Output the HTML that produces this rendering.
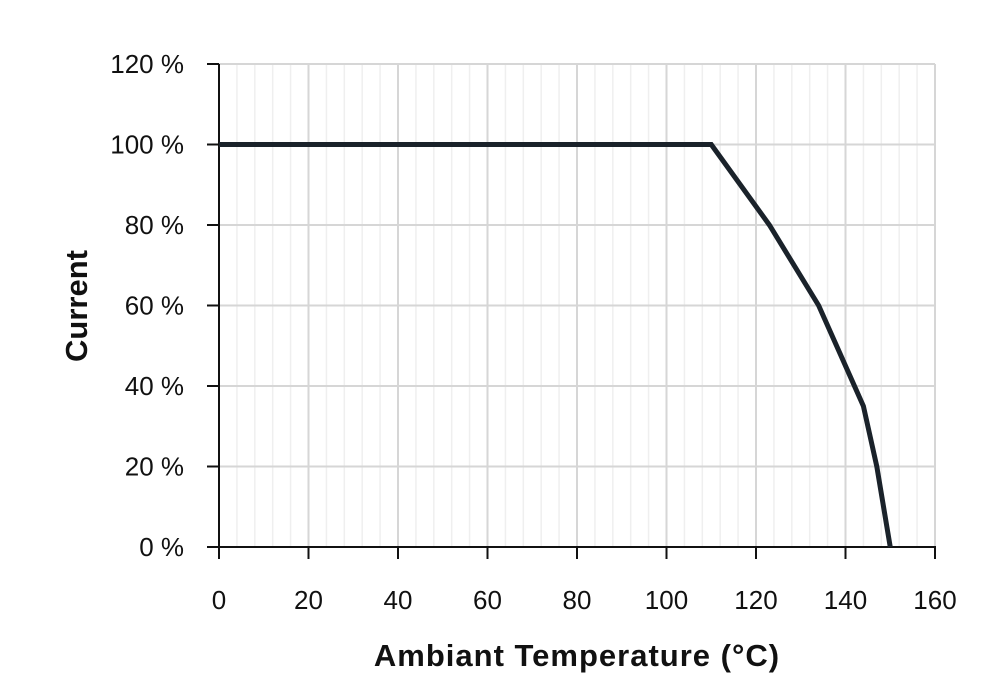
<!DOCTYPE html><html><head><style>body{margin:0;background:#fff}svg{display:block}</style></head><body>
<svg width="1000" height="700" xmlns="http://www.w3.org/2000/svg" font-family="Liberation Sans, sans-serif">
<g stroke="#efefef" stroke-width="1.5">
<line x1="236.9" y1="64" x2="236.9" y2="547"/><line x1="254.8" y1="64" x2="254.8" y2="547"/><line x1="272.7" y1="64" x2="272.7" y2="547"/><line x1="290.6" y1="64" x2="290.6" y2="547"/>
<line x1="326.4" y1="64" x2="326.4" y2="547"/><line x1="344.3" y1="64" x2="344.3" y2="547"/><line x1="362.2" y1="64" x2="362.2" y2="547"/><line x1="380.1" y1="64" x2="380.1" y2="547"/>
<line x1="415.9" y1="64" x2="415.9" y2="547"/><line x1="433.8" y1="64" x2="433.8" y2="547"/><line x1="451.7" y1="64" x2="451.7" y2="547"/><line x1="469.6" y1="64" x2="469.6" y2="547"/>
<line x1="505.4" y1="64" x2="505.4" y2="547"/><line x1="523.3" y1="64" x2="523.3" y2="547"/><line x1="541.2" y1="64" x2="541.2" y2="547"/><line x1="559.1" y1="64" x2="559.1" y2="547"/>
<line x1="594.9" y1="64" x2="594.9" y2="547"/><line x1="612.8" y1="64" x2="612.8" y2="547"/><line x1="630.7" y1="64" x2="630.7" y2="547"/><line x1="648.6" y1="64" x2="648.6" y2="547"/>
<line x1="684.4" y1="64" x2="684.4" y2="547"/><line x1="702.3" y1="64" x2="702.3" y2="547"/><line x1="720.2" y1="64" x2="720.2" y2="547"/><line x1="738.1" y1="64" x2="738.1" y2="547"/>
<line x1="773.9" y1="64" x2="773.9" y2="547"/><line x1="791.8" y1="64" x2="791.8" y2="547"/><line x1="809.7" y1="64" x2="809.7" y2="547"/><line x1="827.6" y1="64" x2="827.6" y2="547"/>
<line x1="863.4" y1="64" x2="863.4" y2="547"/><line x1="881.3" y1="64" x2="881.3" y2="547"/><line x1="899.2" y1="64" x2="899.2" y2="547"/><line x1="917.1" y1="64" x2="917.1" y2="547"/>
</g>
<g stroke="#d6d6d6" stroke-width="2">
<line x1="308.5" y1="64" x2="308.5" y2="547"/><line x1="398" y1="64" x2="398" y2="547"/><line x1="487.5" y1="64" x2="487.5" y2="547"/><line x1="577" y1="64" x2="577" y2="547"/><line x1="666.5" y1="64" x2="666.5" y2="547"/><line x1="756" y1="64" x2="756" y2="547"/><line x1="845.5" y1="64" x2="845.5" y2="547"/><line x1="935" y1="64" x2="935" y2="547"/>
<line x1="219" y1="64" x2="935" y2="64"/><line x1="219" y1="144.5" x2="935" y2="144.5"/><line x1="219" y1="225" x2="935" y2="225"/><line x1="219" y1="305.5" x2="935" y2="305.5"/><line x1="219" y1="386" x2="935" y2="386"/><line x1="219" y1="466.5" x2="935" y2="466.5"/>
</g>
<g stroke="#111" stroke-width="2">
<line x1="219" y1="64" x2="219" y2="548"/><line x1="207" y1="547" x2="936" y2="547"/>
<line x1="207" y1="64" x2="219" y2="64"/><line x1="207" y1="144.5" x2="219" y2="144.5"/><line x1="207" y1="225" x2="219" y2="225"/><line x1="207" y1="305.5" x2="219" y2="305.5"/><line x1="207" y1="386" x2="219" y2="386"/><line x1="207" y1="466.5" x2="219" y2="466.5"/>
<line x1="219" y1="547" x2="219" y2="559"/><line x1="308.5" y1="547" x2="308.5" y2="559"/><line x1="398" y1="547" x2="398" y2="559"/><line x1="487.5" y1="547" x2="487.5" y2="559"/><line x1="577" y1="547" x2="577" y2="559"/><line x1="666.5" y1="547" x2="666.5" y2="559"/><line x1="756" y1="547" x2="756" y2="559"/><line x1="845.5" y1="547" x2="845.5" y2="559"/><line x1="935" y1="547" x2="935" y2="559"/>
</g>
<g font-size="26" fill="#111" text-anchor="middle">
<text x="219" y="609">0</text><text x="308.5" y="609">20</text><text x="398" y="609">40</text><text x="487.5" y="609">60</text><text x="577" y="609">80</text><text x="666.5" y="609">100</text><text x="756" y="609">120</text><text x="845.5" y="609">140</text><text x="935" y="609">160</text>
</g>
<g font-size="26" fill="#111" text-anchor="end">
<text x="184" y="556">0 %</text><text x="184" y="475.5">20 %</text><text x="184" y="395">40 %</text><text x="184" y="314.5">60 %</text><text x="184" y="234">80 %</text><text x="184" y="153.5">100 %</text><text x="184" y="73">120 %</text>
</g>
<polyline points="219,144.5 711.25,144.5 769.4,225 818.65,305.5 863.4,406.1 876.8,466.5 890.25,547" fill="none" stroke="#1a222a" stroke-width="5"/>
<text x="577" y="666" font-size="31" font-weight="bold" text-anchor="middle" fill="#111" letter-spacing="1">Ambiant Temperature (°C)</text>
<text transform="translate(87,306) rotate(-90)" font-size="31" font-weight="bold" text-anchor="middle" fill="#111">Current</text>
</svg></body></html>
